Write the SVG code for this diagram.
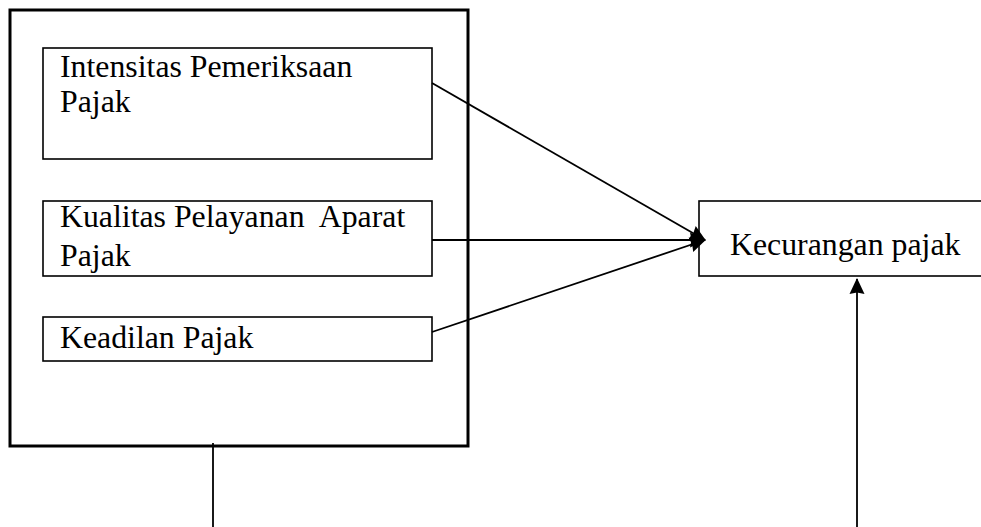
<svg xmlns="http://www.w3.org/2000/svg" width="981" height="527" viewBox="0 0 981 527">
<style>
.box{fill:#fff;stroke:#000;stroke-width:1.6}
.outer{fill:none;stroke:#000;stroke-width:3}
.lbl{font-family:"Liberation Serif","Times New Roman",serif;font-size:31.8px;fill:#000}
.con{stroke:#000;stroke-width:1.8;fill:none}
</style>
<defs>
<marker id="ah" viewBox="0 0 16 16" refX="15" refY="8" markerWidth="16" markerHeight="16" markerUnits="userSpaceOnUse" orient="auto">
<path d="M0,0.5 L16,8 L0,15.5 L1.5,8 Z" fill="#000"/>
</marker>
</defs>
<g id="group-outer"><rect class="outer" x="10" y="10" width="458" height="436"/></g>
<g id="node-intensitas">
<rect class="box" x="43" y="48" width="389" height="111"/>
<text class="lbl" x="60" y="77">Intensitas Pemeriksaan</text>
<text class="lbl" x="60" y="112">Pajak</text>
</g>
<g id="node-kualitas">
<rect class="box" x="43" y="201" width="389" height="75"/>
<text class="lbl" x="60" y="227" xml:space="preserve">Kualitas Pelayanan  Aparat</text>
<text class="lbl" x="60" y="266">Pajak</text>
</g>
<g id="node-keadilan">
<rect class="box" x="43" y="317" width="389" height="44"/>
<text class="lbl" x="60" y="348">Keadilan Pajak</text>
</g>
<g id="node-kecurangan">
<rect class="box" x="699" y="201" width="300" height="75"/>
<text class="lbl" x="730" y="255">Kecurangan pajak</text>
</g>
<g id="connectors">
<line class="con" x1="432" y1="83" x2="705" y2="240" marker-end="url(#ah)"/>
<line class="con" x1="432" y1="240" x2="705" y2="240" marker-end="url(#ah)"/>
<line class="con" x1="432" y1="332" x2="705" y2="240" marker-end="url(#ah)"/>
<line class="con" x1="213" y1="443" x2="213" y2="527"/>
<line class="con" x1="857" y1="527" x2="857" y2="279" marker-end="url(#ah)"/>
</g>
</svg>
